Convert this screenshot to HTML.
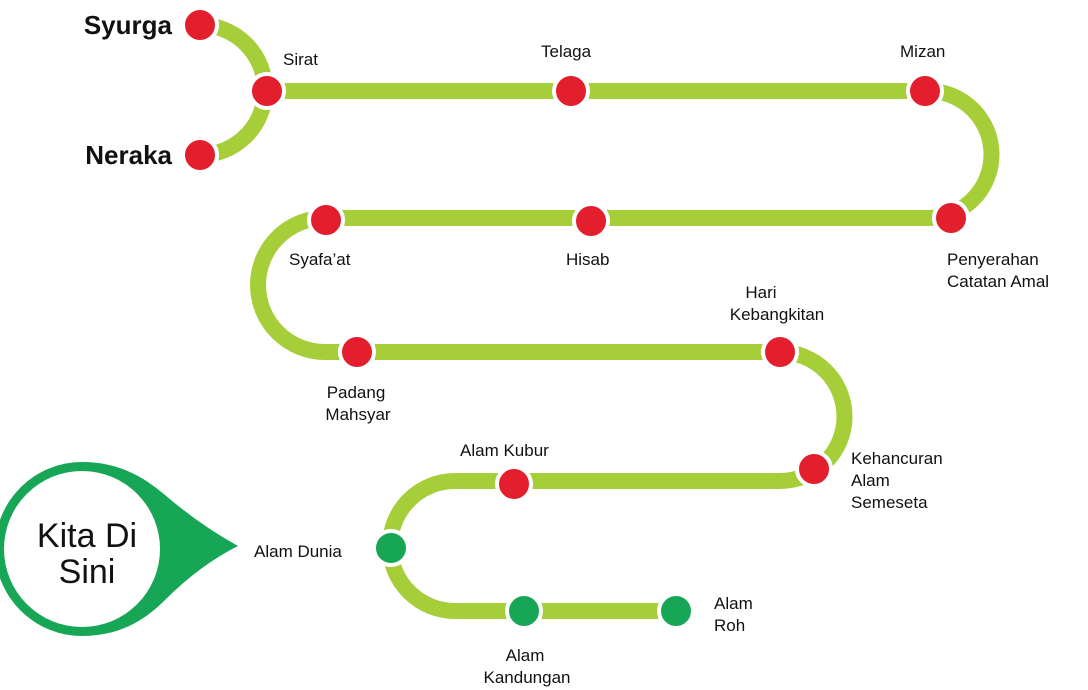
<!DOCTYPE html>
<html><head><meta charset="utf-8"><style>
html,body{margin:0;padding:0;background:#fff;}
svg{display:block;}
text{font-family:"Liberation Sans",sans-serif;font-size:17px;fill:#111;}
</style></head><body>
<svg width="1088" height="690" viewBox="0 0 1088 690">
<g fill="none" stroke="#a6ce39" stroke-width="16">
<path d="M200,25 A65,65 0 0 1 200,155"/>
<path d="M267,91 H928 A63.5,63.5 0 0 1 928,218 H325 A67,67 0 0 0 325,352 H780 A64,64 0 0 1 780,481 H455 A65,65 0 0 0 455,611 H676"/>
</g>
<g fill="#e31e2d" stroke="#fff" stroke-width="4">
<circle cx="200" cy="25" r="17"/>
<circle cx="200" cy="155" r="17"/>
<circle cx="267" cy="91" r="17"/>
<circle cx="571" cy="91" r="17"/>
<circle cx="925" cy="91" r="17"/>
<circle cx="951" cy="218" r="17"/>
<circle cx="591" cy="221" r="17"/>
<circle cx="326" cy="220" r="17"/>
<circle cx="357" cy="352" r="17"/>
<circle cx="780" cy="352" r="17"/>
<circle cx="814" cy="469" r="17"/>
<circle cx="514" cy="484" r="17"/>
</g>
<g fill="#17a655" stroke="#fff" stroke-width="4">
<circle cx="391" cy="548" r="17"/>
<circle cx="524" cy="611" r="17"/>
<circle cx="676" cy="611" r="17"/>
</g>
<path d="M82,462 C120,462 145,478 165,495 Q200,525 238,546 Q200,565 165,600 C145,620 120,636 82,636 A87,87 0 0 1 82,462 Z" fill="#17a655"/>
<circle cx="82" cy="549" r="78" fill="#fff"/>
<text x="87" y="547" text-anchor="middle" style="font-size:34px">Kita Di</text>
<text x="87" y="583" text-anchor="middle" style="font-size:34px">Sini</text>
<text x="172" y="34" text-anchor="end" style="font-size:26px;font-weight:bold">Syurga</text>
<text x="172" y="164" text-anchor="end" style="font-size:26px;font-weight:bold">Neraka</text>
<text x="283" y="65">Sirat</text>
<text x="541" y="57">Telaga</text>
<text x="900" y="57">Mizan</text>
<text x="947" y="265">Penyerahan</text>
<text x="947" y="287">Catatan Amal</text>
<text x="289" y="265">Syafa’at</text>
<text x="566" y="265">Hisab</text>
<text x="761" y="298" text-anchor="middle">Hari</text>
<text x="777" y="320" text-anchor="middle">Kebangkitan</text>
<text x="356" y="398" text-anchor="middle">Padang</text>
<text x="358" y="420" text-anchor="middle">Mahsyar</text>
<text x="851" y="464">Kehancuran</text>
<text x="851" y="486">Alam</text>
<text x="851" y="508">Semeseta</text>
<text x="460" y="456">Alam Kubur</text>
<text x="254" y="557">Alam Dunia</text>
<text x="525" y="661" text-anchor="middle">Alam</text>
<text x="527" y="683" text-anchor="middle">Kandungan</text>
<text x="714" y="609">Alam</text>
<text x="714" y="631">Roh</text>
</svg>
</body></html>
